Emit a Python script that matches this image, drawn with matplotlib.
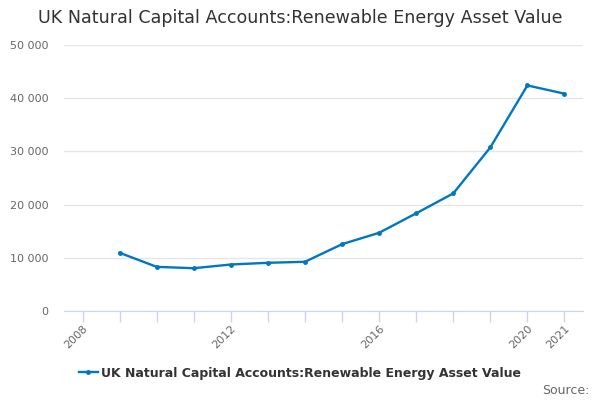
import numpy as np
import matplotlib.pyplot as plt
from matplotlib.ticker import FuncFormatter, FixedLocator


years = np.arange(2009, 2022)
values = np.array([10940, 8300, 8040, 8740, 9060, 9250, 12560,
                   14700, 18360, 22100, 30750, 42400, 40850])

series_name = "UK Natural Capital Accounts:Renewable Energy Asset Value"
label_years = [2008, 2012, 2016, 2020, 2021]

fig = plt.figure(figsize=(6, 4), dpi=100)
ax = fig.add_axes([64 / 600, 1 - 311 / 400, (583 - 64) / 600, (311 - 45) / 400])

line_color = '#0077c0'
ax.plot(years, values, color=line_color, lw=1.7, marker='o', ms=2.5,
        label=series_name)

ax.set_xlim(2007.5, 2021.5)
ax.set_ylim(0, 50000)

ax.yaxis.set_major_locator(FixedLocator([0, 10000, 20000, 30000, 40000, 50000]))
ax.yaxis.set_major_formatter(FuncFormatter(lambda v, p: f"{int(v):,}".replace(",", " ")))
ax.grid(axis='y', color='#e6e6e6', lw=1)
ax.set_axisbelow(True)

ax.set_xticks(label_years)
ax.set_xticklabels([str(y) for y in label_years], rotation=45, ha='right',
                   rotation_mode='anchor')
ax.set_xticks(np.arange(2008, 2022), minor=True)
ax.tick_params(axis='x', which='both', length=8, color='#ccd6eb', width=1,
               labelcolor='#666666', labelsize=8, pad=1)
ax.tick_params(axis='y', length=0, labelcolor='#666666', labelsize=8, pad=11)

for s in ['top', 'right', 'left']:
    ax.spines[s].set_visible(False)
ax.spines['bottom'].set_color('#ccd6eb')

fig.text(0.5, 1 - 18 / 400, series_name, ha='center', va='center',
         fontsize=12.6, color='#333333')

leg = fig.legend(loc='center', bbox_to_anchor=(0.5, 1 - 373 / 400), frameon=False,
                 prop={'size': 9, 'weight': 'bold'}, handlelength=1.5,
                 handletextpad=0.3)
for t in leg.get_texts():
    t.set_color('#333333')

fig.text(0.982, 1 - 390 / 400, "Source:", ha='right', va='center',
         fontsize=9, color='#666666')

fig.savefig('out.png', dpi=100)
